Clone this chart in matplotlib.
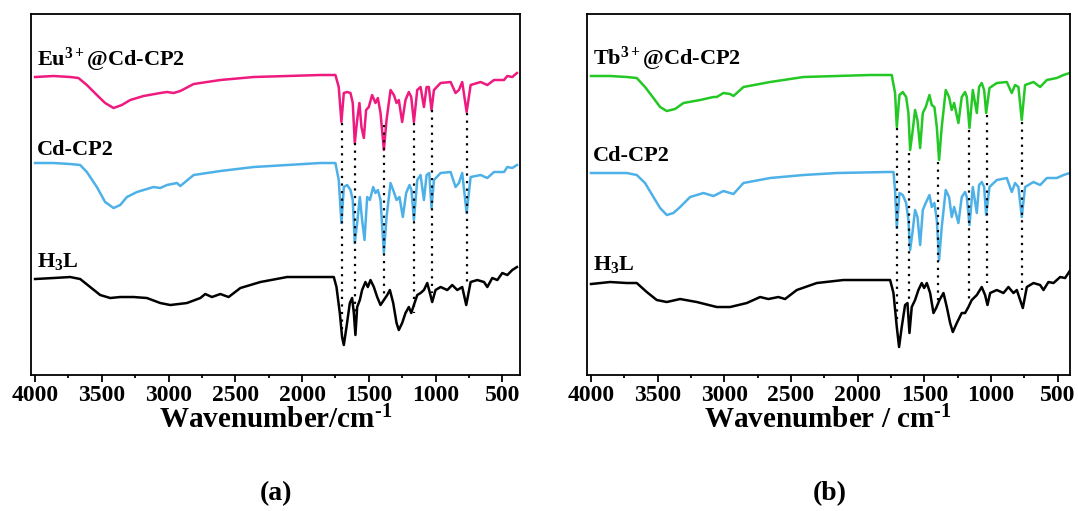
import numpy as np
import matplotlib
matplotlib.use("Agg")
import matplotlib.pyplot as plt
from matplotlib.ticker import MultipleLocator

plt.rcParams['font.family'] = ['Liberation Serif', 'DejaVu Serif']
plt.rcParams['font.weight'] = 'bold'
plt.rcParams['mathtext.fontset'] = 'custom'
plt.rcParams['mathtext.rm'] = 'Liberation Serif:bold'
plt.rcParams['mathtext.it'] = 'Liberation Serif:bold'
plt.rcParams['mathtext.bf'] = 'Liberation Serif:bold'

# ---- spectra: (wavenumber, offset transmittance) ----
eu = np.array([
    (4000, 298), (3862, 299), (3737, 298), (3675, 297), (3612, 290), (3537, 280),
    (3475, 272), (3412, 267), (3350, 270), (3287, 275), (3187, 279), (3062, 282),
    (3012, 283), (2962, 282), (2912, 284), (2812, 291), (2612, 295), (2362, 298),
    (2112, 299), (1862, 300), (1750, 300), (1725, 288), (1705, 253), (1687, 282),
    (1662, 283), (1637, 282), (1620, 272), (1605, 232), (1587, 255), (1570, 272),
    (1555, 248), (1537, 237), (1520, 265), (1500, 268), (1475, 280), (1450, 272),
    (1432, 277), (1412, 262), (1387, 225), (1367, 255), (1337, 285), (1312, 280),
    (1292, 272), (1275, 275), (1250, 253), (1225, 275), (1200, 283), (1182, 278),
    (1162, 253), (1137, 285), (1112, 288), (1087, 268), (1067, 288), (1050, 288),
    (1030, 265), (1012, 285), (962, 292), (887, 293), (850, 282), (825, 285),
    (800, 293), (767, 263), (737, 290), (662, 293), (612, 290), (562, 295),
    (487, 295), (462, 299), (425, 298), (390, 302)])

cd_a = np.array([
    (4000, 212), (3862, 212), (3737, 211), (3662, 210), (3612, 203), (3537, 188),
    (3475, 173), (3412, 167), (3362, 170), (3312, 178), (3237, 183), (3112, 188),
    (3062, 187), (3012, 190), (2937, 192), (2912, 189), (2812, 200), (2612, 204),
    (2362, 208), (2112, 210), (1862, 212), (1750, 212), (1725, 195), (1705, 152),
    (1687, 188), (1662, 190), (1637, 185), (1620, 175), (1605, 132), (1587, 152),
    (1567, 178), (1550, 155), (1532, 135), (1512, 178), (1492, 175), (1467, 188),
    (1450, 182), (1432, 185), (1412, 175), (1387, 122), (1367, 158), (1337, 192),
    (1312, 183), (1292, 175), (1270, 178), (1245, 158), (1220, 182), (1195, 190),
    (1180, 185), (1162, 155), (1137, 195), (1112, 200), (1087, 175), (1067, 200),
    (1047, 202), (1030, 167), (1012, 195), (962, 202), (887, 203), (850, 188),
    (825, 192), (800, 202), (767, 162), (737, 198), (662, 200), (612, 197),
    (562, 203), (487, 203), (462, 208), (425, 207), (390, 210)])

h3l_a = np.array([
    (4000, 96), (3862, 97), (3737, 98), (3662, 96), (3587, 88), (3512, 80),
    (3437, 77), (3362, 78), (3262, 78), (3162, 77), (3062, 72), (2987, 70),
    (2862, 72), (2762, 77), (2725, 81), (2675, 78), (2612, 81), (2550, 78),
    (2462, 87), (2312, 93), (2112, 98), (1862, 98), (1762, 98), (1742, 88),
    (1717, 62), (1700, 38), (1687, 30), (1667, 48), (1642, 72), (1625, 77),
    (1612, 62), (1600, 40), (1587, 68), (1567, 75), (1550, 85), (1525, 93),
    (1507, 88), (1487, 95), (1462, 88), (1437, 78), (1412, 70), (1387, 75),
    (1362, 80), (1342, 85), (1317, 72), (1292, 52), (1275, 45), (1250, 52),
    (1225, 62), (1200, 68), (1182, 62), (1162, 70), (1137, 80), (1112, 82),
    (1087, 85), (1062, 92), (1042, 82), (1025, 73), (1000, 85), (962, 88),
    (912, 85), (875, 90), (837, 85), (800, 88), (770, 70), (737, 93),
    (687, 95), (637, 93), (612, 88), (575, 97), (537, 95), (500, 102),
    (462, 100), (425, 105), (390, 108)])

tb = np.array([
    (4000, 299), (3857, 299), (3732, 298), (3657, 297), (3595, 288), (3532, 277),
    (3482, 268), (3432, 264), (3370, 266), (3307, 272), (3182, 275), (3082, 278),
    (3057, 278), (3007, 282), (2957, 281), (2932, 279), (2857, 288), (2657, 293),
    (2407, 298), (2157, 299), (1907, 300), (1745, 300), (1720, 282), (1707, 248),
    (1687, 280), (1662, 283), (1637, 278), (1620, 262), (1607, 225), (1590, 242),
    (1570, 265), (1552, 255), (1532, 227), (1512, 262), (1490, 268), (1462, 280),
    (1445, 270), (1425, 268), (1407, 248), (1390, 215), (1370, 248), (1340, 285),
    (1315, 278), (1295, 265), (1277, 272), (1245, 252), (1220, 278), (1195, 283),
    (1182, 278), (1162, 247), (1137, 285), (1107, 262), (1090, 288), (1070, 292),
    (1052, 285), (1037, 262), (1012, 287), (957, 292), (882, 293), (845, 282),
    (820, 290), (795, 288), (770, 255), (745, 290), (682, 293), (632, 288),
    (582, 295), (507, 297), (457, 300), (410, 302)])

cd_b = np.array([
    (4000, 202), (3857, 202), (3732, 202), (3657, 200), (3595, 192), (3532, 178),
    (3482, 167), (3432, 160), (3382, 162), (3332, 168), (3257, 178), (3157, 182),
    (3082, 179), (3007, 184), (2932, 181), (2857, 192), (2657, 197), (2407, 200),
    (2157, 202), (1782, 203), (1732, 203), (1720, 185), (1707, 147), (1687, 182),
    (1662, 180), (1637, 172), (1620, 155), (1607, 125), (1590, 142), (1570, 165),
    (1552, 158), (1532, 130), (1512, 165), (1490, 172), (1462, 180), (1445, 168),
    (1425, 172), (1407, 155), (1390, 115), (1370, 148), (1340, 185), (1315, 178),
    (1295, 158), (1277, 168), (1245, 152), (1220, 178), (1195, 183), (1182, 178),
    (1162, 150), (1137, 188), (1107, 162), (1090, 190), (1070, 193), (1052, 188),
    (1037, 160), (1012, 188), (957, 195), (882, 197), (845, 183), (820, 192),
    (795, 188), (770, 158), (745, 188), (682, 193), (632, 190), (582, 197),
    (507, 197), (457, 200), (410, 202)])

h3l_b = np.array([
    (4000, 91), (3857, 93), (3732, 92), (3657, 92), (3582, 83), (3507, 75),
    (3432, 73), (3332, 76), (3207, 73), (3057, 68), (2957, 68), (2832, 72),
    (2732, 78), (2670, 76), (2595, 78), (2545, 76), (2457, 85), (2307, 92),
    (2107, 95), (1782, 95), (1757, 95), (1732, 82), (1707, 48), (1690, 28),
    (1670, 48), (1645, 70), (1627, 72), (1612, 42), (1595, 68), (1570, 75),
    (1545, 85), (1520, 92), (1502, 87), (1482, 92), (1457, 82), (1432, 62),
    (1412, 67), (1387, 75), (1357, 82), (1332, 68), (1307, 52), (1287, 43),
    (1257, 52), (1220, 62), (1195, 62), (1170, 68), (1145, 75), (1107, 80),
    (1070, 88), (1045, 80), (1027, 70), (1007, 82), (957, 85), (907, 82),
    (870, 88), (832, 82), (807, 85), (762, 67), (732, 88), (682, 92),
    (632, 90), (607, 85), (570, 93), (532, 92), (482, 98), (445, 97),
    (410, 104)])

# guide lines: wavenumber, top, bottom
guide_a_wn = [1700, 1600, 1387, 1162, 1030, 767]
guide_a_top = [252, 232, 250, 252, 265, 262]
guide_a_bot = [40, 45, 75, 62, 82, 92]
guide_b_wn = [1707, 1612, 1395, 1165, 1032, 770]
guide_b_top = [247, 222, 213, 245, 260, 253]
guide_b_bot = [55, 75, 72, 75, 92, 85]

pink = '#EE1A7F'
blue = '#4DB1E8'
green = '#24C824'

fig = plt.figure(figsize=(10.78, 5.11), dpi=100)
ax1 = fig.add_axes([0.0288, 0.2661, 0.4536, 0.7065])
ax2 = fig.add_axes([0.5443, 0.2661, 0.4483, 0.7065])

panels = [
    (ax1, [(eu, pink), (cd_a, blue), (h3l_a, 'black')], guide_a_wn, guide_a_top, guide_a_bot,
     (4030, 367), r'Eu$^{3+}$@Cd-CP2', r'Wavenumber/cm$^{\text{-1}}$', (309, 220, 108)),
    (ax2, [(tb, green), (cd_b, blue), (h3l_b, 'black')], guide_b_wn, guide_b_top, guide_b_bot,
     (4032, 408), r'Tb$^{3+}$@Cd-CP2', r'Wavenumber / cm$^{\text{-1}}$', (310, 214, 105)),
]

for ax, curves, gwn, gtop, gbot, xl, top_label, xlab, label_y in panels:
    for data, col in curves:
        ax.plot(data[:, 0], data[:, 1], color=col, lw=1.8)
    for w, t, b in zip(gwn, gtop, gbot):
        ax.plot([w, w], [t, b], color='black', lw=1.6, ls=(0, (1, 2.4)))
    ax.set_xlim(*xl)
    ax.set_ylim(0, 361)
    ax.set_yticks([])
    ax.xaxis.set_major_locator(MultipleLocator(500))
    ax.xaxis.set_minor_locator(MultipleLocator(250))
    ax.tick_params(axis='x', which='major', direction='out', length=5, width=1.3,
                   labelsize=17, pad=2)
    ax.tick_params(axis='x', which='minor', direction='out', length=2.5, width=1.3)
    for lab in ax.get_xticklabels():
        lab.set_fontweight('bold')
    for sp in ax.spines.values():
        sp.set_linewidth(1.3)
    ax.set_xlabel(xlab, fontsize=21, fontweight='bold', labelpad=0)
    ax.text(3985, label_y[0], top_label, fontsize=16, fontweight='bold', va='baseline')
    ax.text(3985, label_y[1], 'Cd-CP2', fontsize=16, fontweight='bold', va='baseline')
    ax.text(3985, label_y[2], r'H$_{3}$L', fontsize=16, fontweight='bold', va='baseline')

fig.text(0.256, 0.035, '(a)', fontsize=20, fontweight='bold', ha='center', va='center')
fig.text(0.770, 0.035, '(b)', fontsize=20, fontweight='bold', ha='center', va='center')

fig.savefig('out.png', dpi=100)
